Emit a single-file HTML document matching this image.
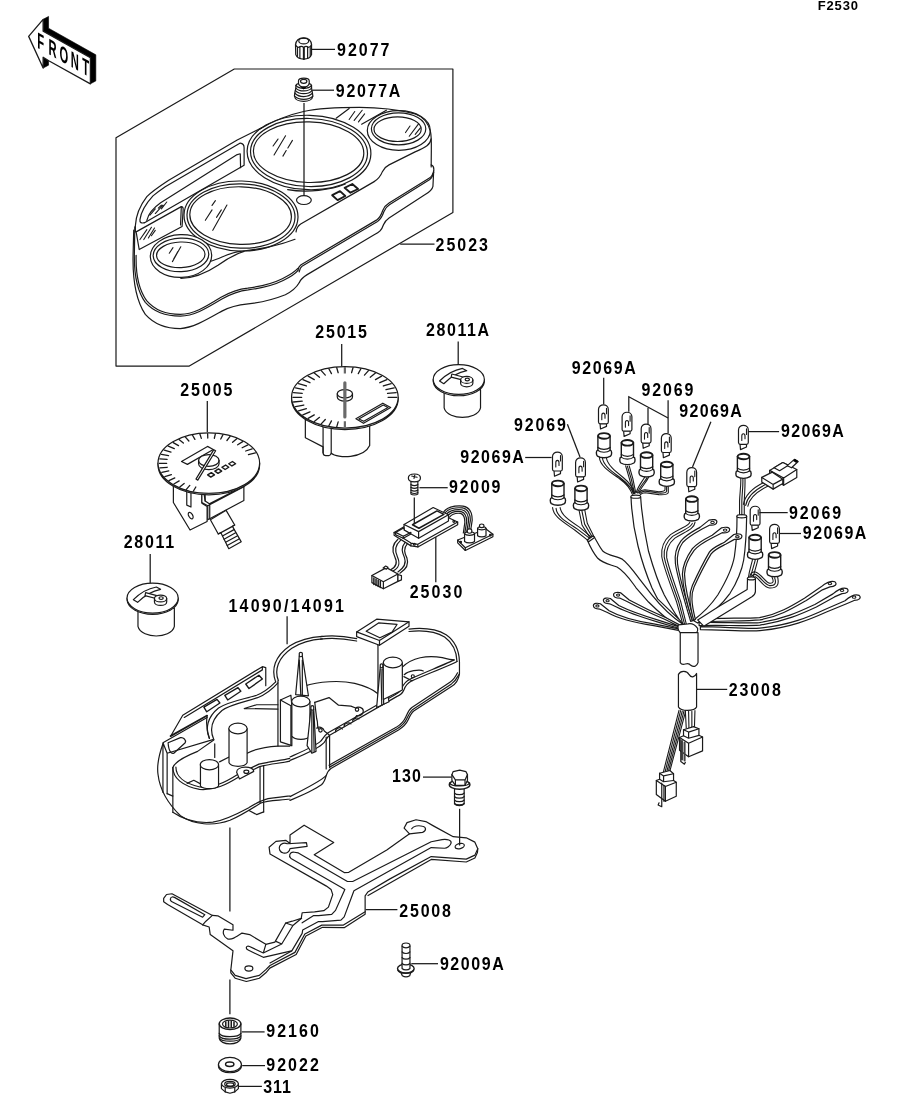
<!DOCTYPE html>
<html><head><meta charset="utf-8"><title>F2530 Meter(s)</title>
<style>
html,body{margin:0;padding:0;background:#fff;}
body{width:914px;height:1103px;overflow:hidden;font-family:"Liberation Sans",sans-serif;}
svg{display:block;position:absolute;left:0;top:0;filter:grayscale(1);}
svg text{font-family:"Liberation Sans",sans-serif;font-weight:bold;font-size:17px;fill:#000;}
.l{fill:none;stroke:#1a1a1a;stroke-width:1.2;stroke-linecap:round;stroke-linejoin:round;vector-effect:non-scaling-stroke;}
.w{fill:#fff;stroke:#1a1a1a;stroke-width:1.2;stroke-linecap:round;stroke-linejoin:round;vector-effect:non-scaling-stroke;}
.t{fill:none;stroke:#1a1a1a;stroke-width:1.1;stroke-linecap:round;stroke-linejoin:round;vector-effect:non-scaling-stroke;}
.tw{fill:#fff;stroke:#1a1a1a;stroke-width:1.0;stroke-linecap:round;stroke-linejoin:round;vector-effect:non-scaling-stroke;}
.k{fill:#000;stroke:#000;stroke-width:0.6;stroke-linejoin:round;vector-effect:non-scaling-stroke;}
.ld{fill:none;stroke:#1a1a1a;stroke-width:1.25;}
</style></head><body>
<svg width="914" height="1103" viewBox="0 0 914 1103">
<rect width="914" height="1103" fill="#fff"/>
<g id="labels">
<text transform="translate(817.7,9.9) scale(1,1.05)" textLength="40.3" lengthAdjust="spacing" style="font-size:13.0px">F2530</text>
<text transform="translate(337,55.8) scale(1,1.15)" textLength="52.5" lengthAdjust="spacing" style="font-size:16.0px">92077</text>
<text transform="translate(335.8,96.9) scale(1,1.15)" textLength="64.5" lengthAdjust="spacing" style="font-size:16.0px">92077A</text>
<text transform="translate(435.6,251.1) scale(1,1.15)" textLength="52.4" lengthAdjust="spacing" style="font-size:16.0px">25023</text>
<text transform="translate(315.3,338.2) scale(1,1.15)" textLength="51.6" lengthAdjust="spacing" style="font-size:16.0px">25015</text>
<text transform="translate(426,335.5) scale(1,1.15)" textLength="63.0" lengthAdjust="spacing" style="font-size:16.0px">28011A</text>
<text transform="translate(180.2,396.3) scale(1,1.15)" textLength="52.3" lengthAdjust="spacing" style="font-size:16.0px">25005</text>
<text transform="translate(123.8,548.3) scale(1,1.15)" textLength="50.3" lengthAdjust="spacing" style="font-size:16.0px">28011</text>
<text transform="translate(448.9,493.2) scale(1,1.15)" textLength="51.6" lengthAdjust="spacing" style="font-size:16.0px">92009</text>
<text transform="translate(409.7,598.3) scale(1,1.15)" textLength="52.6" lengthAdjust="spacing" style="font-size:16.0px">25030</text>
<text transform="translate(228.5,611.7) scale(1,1.15)" textLength="115.4" lengthAdjust="spacing" style="font-size:16.0px">14090/14091</text>
<text transform="translate(391.9,782.4) scale(1,1.15)" textLength="29.0" lengthAdjust="spacing" style="font-size:16.0px">130</text>
<text transform="translate(399.2,916.5) scale(1,1.15)" textLength="51.8" lengthAdjust="spacing" style="font-size:16.0px">25008</text>
<text transform="translate(439.9,969.6) scale(1,1.15)" textLength="63.9" lengthAdjust="spacing" style="font-size:16.0px">92009A</text>
<text transform="translate(266.3,1037.3) scale(1,1.15)" textLength="52.5" lengthAdjust="spacing" style="font-size:16.0px">92160</text>
<text transform="translate(266.3,1071.2) scale(1,1.15)" textLength="52.5" lengthAdjust="spacing" style="font-size:16.0px">92022</text>
<text transform="translate(263.2,1092.6) scale(1,1.15)" textLength="27.6" lengthAdjust="spacing" style="font-size:16.0px">311</text>
<text transform="translate(571.7,374) scale(1,1.15)" textLength="64.2" lengthAdjust="spacing" style="font-size:16.0px">92069A</text>
<text transform="translate(641.4,395.9) scale(1,1.15)" textLength="51.9" lengthAdjust="spacing" style="font-size:16.0px">92069</text>
<text transform="translate(679.2,417) scale(1,1.15)" textLength="62.7" lengthAdjust="spacing" style="font-size:16.0px">92069A</text>
<text transform="translate(514.1,430.6) scale(1,1.15)" textLength="51.8" lengthAdjust="spacing" style="font-size:16.0px">92069</text>
<text transform="translate(460.3,463.4) scale(1,1.15)" textLength="63.6" lengthAdjust="spacing" style="font-size:16.0px">92069A</text>
<text transform="translate(780.9,436.9) scale(1,1.15)" textLength="62.9" lengthAdjust="spacing" style="font-size:16.0px">92069A</text>
<text transform="translate(789,518.5) scale(1,1.15)" textLength="52.1" lengthAdjust="spacing" style="font-size:16.0px">92069</text>
<text transform="translate(802.8,539.3) scale(1,1.15)" textLength="63.6" lengthAdjust="spacing" style="font-size:16.0px">92069A</text>
<text transform="translate(728.8,696.0) scale(1,1.15)" textLength="52.0" lengthAdjust="spacing" style="font-size:16.0px">23008</text>
</g>

<path class="l" d="M116 137.7L234.3 69H452.9V212.5L189.3 366.1H116Z"/>
<!-- 01_front.svg -->
<g id="front" transform="translate(20,10) scale(0.09846)">
<path class="k" d="M235 95L290 65V185L770 455V720L715 750V485L235 215Z"/>
<path class="k" d="M235 480L290 512V560L235 590Z"/>
<path class="w" style="stroke-width:1.3" d="M88 268L235 95V215L715 485V750L292 516L235 480V590Z"/>
</g>
<g id="fronttxt" style="font-size:14px">
<text transform="matrix(0.66,0.371,0,1.34,37.2,47.7)">F</text>
<text transform="matrix(0.66,0.371,0,1.34,48.4,54.0)">R</text>
<text transform="matrix(0.66,0.371,0,1.34,59.4,60.2)">O</text>
<text transform="matrix(0.66,0.371,0,1.34,70.7,66.6)">N</text>
<text transform="matrix(0.66,0.371,0,1.34,82.2,73.0)">T</text>
</g>

<!-- 02_cover.svg -->
<g id="cover">
<!-- gauges -->
<g transform="rotate(1.5 309 152.5)">
<ellipse class="w" cx="309" cy="152.5" rx="61.9" ry="37.2"/>
<ellipse class="l" cx="309" cy="152.5" rx="58.5" ry="34"/>
<ellipse class="l" cx="308.6" cy="152.2" rx="55.2" ry="30.3"/>
</g>
<g transform="rotate(1.5 241 216)">
<ellipse class="w" cx="241" cy="216" rx="57" ry="35"/>
<ellipse class="l" cx="241" cy="216" rx="54" ry="32.2"/>
<ellipse class="l" cx="240.6" cy="215.6" rx="50.8" ry="28.8"/>
</g>
<g transform="rotate(-2 181 256)">
<ellipse class="w" cx="181" cy="256" rx="30.7" ry="21.4"/>
<ellipse class="l" cx="181" cy="254.9" rx="27.8" ry="16.8"/>
<ellipse class="l" cx="180.8" cy="254.8" rx="24.2" ry="12.8"/>
</g>
<g>
<ellipse class="w" cx="398.8" cy="130.5" rx="31.5" ry="19.8"/>
<ellipse class="l" cx="398.6" cy="128.8" rx="27.2" ry="16"/>
<ellipse class="l" cx="397.6" cy="129.2" rx="23.6" ry="12.3"/>
</g>
<!-- hole + squares -->
<ellipse class="l" cx="303.9" cy="200.1" rx="7.4" ry="4.4"/>
<path class="l" style="stroke-width:1.9" d="M332.2 195.2L340 191.1L345.3 196L337.6 200.1ZM344.6 187.8L352.3 184L358.1 189L350.4 192.7Z"/>
</g>

<!-- 02a_cover_outline.svg -->
<g id="cover_outline_D1" transform="translate(130,140) scale(0.15316)">
<!-- outer silhouette top-left -->
<path class="l" d="M35 600V560C38 500 60 435 110 370C150 330 200 298 250 265L700 0L860 -80"/>
<!-- L2 window outer -->
<path class="l" d="M95 540C75 545 62 540 65 520C72 470 95 425 150 365C180 340 205 322 230 305L720 20C738 22 745 35 745 50V165L720 180"/>
<!-- L3 window inner top -->
<path class="l" d="M110 525C118 490 150 445 200 410L700 95L720 90L722 180"/>
<!-- L4 window bottom -->
<path class="l" d="M95 540L720 180"/>
<path class="t" d="M130 490L165 450M165 480L215 425M205 450L240 405M185 445L205 425"/>
<!-- panel -->
<path class="l" d="M40 600L335 435C345 436 348 445 347 455L340 565L60 715Z"/>
<path class="l" d="M335 435L330 555"/>
<path class="t" d="M65 650L110 585M90 650L140 570M120 640L160 575M140 625L165 590"/>
</g>
<g id="cover_outline_TC" transform="translate(125,150) scale(0.18601)">
<!-- top face lower boundary right of small gauge -->
<path class="l" d="M462 598C520 580 560 552 620 545C700 535 800 525 914 480"/>
<path class="l" d="M300 690C380 690 440 660 500 620C540 590 580 565 640 545"/>
</g>

<!-- 02b_cover_right.svg -->
<g id="cover_outline_TD" transform="translate(285,100) scale(0.18601)">
<!-- top silhouette -->
<path class="l" d="M-142 160C-60 110 40 75 100 62C180 45 300 40 400 40C480 40 600 50 700 75C740 88 770 125 782 170C790 200 786 240 786 360"/>
<!-- window panel top right (indicator window) -->
<path class="l" d="M275 98L345 46M412 130L545 55"/>
<path class="t" d="M345 105L375 62M372 110L415 55M395 118L428 75"/>
</g>
<g id="cover_L" transform="translate(270,150) scale(0.18601)">
<!-- top face front edge -->
<path class="l" d="M866 -60C862 -30 840 -15 780 10L640 80C620 90 612 100 605 115C595 140 580 158 560 170L500 205L165 398C150 408 142 425 140 440"/>
<!-- arc under tach -->
<path class="l" d="M95 213C200 232 330 215 405 183"/>
<!-- flange top double -->
<path class="l" d="M866 80C880 85 882 100 880 112C875 135 868 145 855 152L640 285C620 297 612 310 606 325C598 350 590 365 572 377L165 618C155 625 152 635 150 648"/>
<path class="l" d="M880 120C875 142 868 152 857 160L644 293C626 304 618 316 612 332C604 356 596 372 578 384L172 625C162 632 160 642 157 655"/>
<!-- flange bottom -->
<path class="l" d="M880 112L876 195C872 215 860 225 830 242L640 365C622 377 616 388 610 402C600 432 588 442 560 456L200 670C175 685 165 695 158 712"/>
</g>
<g id="cover_bottom_M" transform="translate(130,240) scale(0.21882)">
<path class="l" d="M22 -60L20 60C18 150 30 230 70 285C110 330 170 348 230 348C290 348 340 318 420 270C460 247 500 232 540 228C600 220 660 205 700 185C735 168 755 155 767 140"/>
<path class="l" d="M28 70C26 150 38 224 76 277C114 322 172 340 230 340C288 340 338 310 416 262C456 239 498 224 538 220C598 212 656 197 696 177C731 160 752 147 767 130"/>
<path class="l" d="M17 -45L14 75C12 200 30 280 70 340C110 385 170 405 230 405C290 400 340 370 420 325C460 303 500 296 540 292C600 285 660 270 710 250C745 232 762 215 774 194"/>
</g>

<!-- 02c_cover_refl.svg -->
<g transform="translate(235,100) scale(0.16412)"><path class="t" d="M238 335L308 218M232 280L262 238M292 342L312 308M322 292L350 246"/></g>
<g transform="translate(125,150) scale(0.18601)"><path class="t" d="M472 432L548 296M432 378L468 322M468 298L486 272M492 362L518 322M255 600L300 520M238 555L258 525M262 585L285 545"/></g>
<g transform="translate(285,100) scale(0.18601)"><path class="t" d="M648 175L672 140M668 195L718 128M700 185L728 150"/></g>

<!-- 03_caps.svg -->
<g id="caps" transform="translate(285,30) scale(0.07252)">
<!-- 92077 cap -->
<path class="w" d="M145 205C150 150 190 110 258 108C325 110 362 150 366 205L366 340C350 385 300 402 258 402C215 402 165 385 148 340Z"/>
<ellipse class="l" cx="258" cy="152" rx="68" ry="40"/>
<path class="l" d="M145 205C160 235 175 240 190 240M366 205C350 235 335 240 320 240M190 240C210 225 235 222 258 240C280 222 305 225 320 240"/>
<path class="l" d="M205 232V392M312 232V392M172 240V365M348 240V365"/>
<path class="l" style="stroke-width:2" d="M260 245V400"/>

<!-- 92077A -->
<path class="w" d="M186 700C190 650 330 650 334 700V740C350 742 362 750 366 765V800C372 830 380 870 384 910C380 960 320 985 258 985C195 985 135 960 130 910C134 870 142 830 150 800V765C154 750 168 742 186 740Z"/>
<ellipse class="l" cx="258" cy="708" rx="44" ry="27"/>
<path class="l" d="M186 740C200 775 230 785 258 785C290 785 320 775 334 740"/>
<path class="l" d="M150 800C180 835 230 840 258 840C290 840 340 835 366 800M144 835C180 872 230 878 258 878C290 878 340 872 372 835M138 872C175 912 230 918 258 918C290 918 345 912 378 872M132 912C170 950 230 956 258 956C290 956 350 950 383 912"/>
<path class="l" d="M150 765C180 800 230 806 258 806C290 806 340 800 366 765"/>
<path class="k" d="M225 790L258 815L290 790Z"/>
</g>

<!-- 04_speedo.svg -->
<g id="speedo" transform="translate(150,425) scale(0.13129)">
<!-- bracket left -->
<path class="w" d="M178 440V590L305 800L435 735V620L395 595V500Z"/>
<path class="l" d="M280 505V610L312 625V510"/>
<ellipse class="l" cx="310" cy="690" rx="15" ry="27" transform="rotate(-30 310 690)"/>
<!-- box right -->
<path class="w" d="M395 500V590L440 615V722L715 575V440Z"/>
<path class="l" d="M440 615L715 470M455 610V715M412 525L420 578L452 600L690 478"/>
<path class="l" d="M420 578V530"/>
<!-- cable -->
<path class="w" d="M460 722L520 830L540 820L600 942L695 890L628 772L645 762L580 650Z"/>
<path class="l" d="M520 830L645 762M540 820L628 772M552 845L640 797M564 870L652 821M576 893L664 845M588 918L678 868"/>
<!-- dial -->
<path class="w" d="M61 290A387 230 0 0 0 835 290V302A387 230 0 0 1 61 302Z"/>
<ellipse class="w" cx="448" cy="290" rx="387" ry="230"/>
<path class="l" style="stroke-width:1.3" d="M331 503L349 472M277 490L303 460M227 472L260 445M182 449L222 426M144 423L189 403M113 393L163 378M90 361L143 350M76 327L131 322M71 292L127 292M75 258L130 262M88 224L141 233M109 191L160 206M139 161L185 180M177 134L217 157M221 111L254 138M270 92L296 122M324 78L342 110M380 69L391 102M439 66L440 99M498 68L490 101M555 75L539 107M610 87L586 118M661 105L629 132M706 127L668 151M746 152L702 173M778 182L729 198M803 213L750 225"/>
<!-- odometer rect -->
<path class="l" d="M240 278L438 163L482 186L285 300Z"/>
<!-- hub -->
<path class="w" d="M370 270A78 45 0 0 1 526 270V295A78 45 0 0 1 370 295Z"/>
<path class="l" d="M370 270A78 45 0 0 0 526 270"/>
<!-- needle -->
<path class="w" d="M350 412L486 188L500 196L364 420Z"/>
<!-- squares -->
<path class="l" style="stroke-width:1.4" d="M439 380L467 363L491 380L463 397ZM494 351L522 334L546 351L518 368ZM548 322L576 305L600 322L572 339ZM600 295L628 278L652 295L624 312Z"/>
</g>

<!-- 05_tach.svg -->
<g id="tach" transform="translate(285,355) scale(0.13129)">
<!-- body -->
<path class="w" d="M155 480V630L290 700V745C292 760 298 766 310 766H335C345 766 350 758 352 748C400 790 600 790 645 690V480Z"/>
<path class="l" d="M290 540V745M352 540V748"/>
<!-- dial -->
<path class="w" d="M50 322A406 234 0 0 0 862 322V334A406 234 0 0 1 50 334Z"/>
<ellipse class="w" cx="456" cy="322" rx="406" ry="234"/>
<path class="l" style="stroke-width:1.3" d="M394 547L405 509M334 539L354 502M276 525L307 491M223 507L263 475M176 483L223 456M136 456L190 433M103 426L163 408M80 393L143 381M65 358L131 352M60 322L127 322M65 286L131 292M80 251L143 263M103 218L163 236M136 188L190 211M176 161L223 188M223 137L263 169M276 119L307 153M334 105L354 142M394 97L405 135M518 97L507 135M578 105L558 142M636 119L605 153M689 137L649 169M736 161L689 188M776 188L722 211M809 218L749 236M832 251L769 263M847 286L781 292M852 322L785 322"/>
<path d="M456 92V140M456 505V553" style="stroke:#666;stroke-width:2.2;fill:none;vector-effect:non-scaling-stroke"/>
<!-- hub -->
<path class="w" d="M398 295A58 32 0 0 1 514 295V320A58 32 0 0 1 398 320Z"/>
<path class="l" d="M398 295A58 32 0 0 0 514 295"/>
<!-- needle -->
<path d="M456 212V472" style="stroke:#6a6a6a;stroke-width:3.2;fill:none;stroke-linecap:round;vector-effect:non-scaling-stroke"/>
<!-- lcd -->
<path class="l" d="M540 485L745 367L805 400L598 520Z"/>
<path class="l" d="M562 487L748 381L784 400L600 505Z"/>
</g>

<!-- 06_gaugeA.svg -->
<g id="g28011A" transform="translate(425,355) scale(0.07659)">
<path class="w" d="M250 470V690C270 780 400 815 488 815C580 815 705 780 725 690V450Z"/>
<path class="w" d="M108 320A334 195 0 0 0 775 320V348A334 195 0 0 1 108 348Z"/>
<ellipse class="w" cx="441" cy="320" rx="334" ry="195"/>
<path class="l" d="M190 340C260 270 380 195 490 175L545 205C440 225 320 300 245 375Z"/>
<path class="w" d="M350 248L545 300L535 338L342 288Z"/>
<path class="w" d="M465 325A80 45 0 0 1 625 325V370A80 45 0 0 1 465 370Z"/>
<path class="l" d="M465 325A80 45 0 0 0 625 325"/>
<ellipse class="l" cx="552" cy="320" rx="28" ry="18"/>
</g>

<!-- 06b_gauge.svg -->
<g id="g28011" transform="translate(118.83,573.6) scale(0.07659)">
<path class="w" d="M250 470V690C270 780 400 815 488 815C580 815 705 780 725 690V450Z"/>
<path class="w" d="M108 320A334 195 0 0 0 775 320V348A334 195 0 0 1 108 348Z"/>
<ellipse class="w" cx="441" cy="320" rx="334" ry="195"/>
<path class="l" d="M190 340C260 270 380 195 490 175L545 205C440 225 320 300 245 375Z"/>
<path class="w" d="M350 248L545 300L535 338L342 288Z"/>
<path class="w" d="M465 325A80 45 0 0 1 625 325V370A80 45 0 0 1 465 370Z"/>
<path class="l" d="M465 325A80 45 0 0 0 625 325"/>
<ellipse class="l" cx="552" cy="320" rx="28" ry="18"/>
</g>

<!-- 07_unit.svg -->
<g id="unit25030" transform="translate(365,465) scale(0.15317)">
<!-- screw 92009 -->
<path class="w" d="M300 105H345V190C335 198 310 198 300 190Z"/>
<path class="l" d="M300 128C315 136 330 136 345 128M300 146C315 154 330 154 345 146M300 164C315 172 330 172 345 164M300 180C315 188 330 188 345 180"/>
<path class="w" d="M283 85C283 50 362 50 362 85C362 100 350 110 322 110C295 110 283 100 283 85Z"/>
<path class="l" d="M305 72L340 80M325 66L320 88"/>
<!-- wires right -->
<path class="l" d="M515 305C540 270 600 265 640 268C680 275 700 310 700 360L690 425"/>
<path class="l" d="M522 312C548 282 600 277 636 280C672 287 688 318 688 362L676 430"/>
<path class="l" d="M532 320C556 294 600 289 632 292C662 299 676 326 676 366L664 436"/>
<path class="l" d="M542 330C562 306 600 301 628 304C654 311 664 334 664 370L652 440"/>
<path class="l" d="M552 340C570 318 600 313 624 316C644 322 652 342 652 374L642 444"/>
<!-- switch board -->
<path class="w" d="M605 490L790 418L835 452V468L655 558L605 508Z"/>
<path class="l" d="M605 490L655 540L835 452M655 540V558"/>
<path class="w" d="M650 450C650 432 715 432 715 450V500C700 512 665 512 650 500Z"/>
<path class="l" d="M650 450C660 462 705 462 715 450"/>
<path class="w" d="M668 440V425C668 415 697 415 697 425V440C690 446 675 446 668 440Z"/>
<path class="w" d="M735 415C735 398 790 398 790 415V462C778 472 747 472 735 462Z"/>
<path class="l" d="M735 415C745 426 780 426 790 415"/>
<path class="w" d="M748 405V392C748 383 776 383 776 392V405C770 410 754 410 748 405Z"/>
<circle class="l" cx="625" cy="503" r="5"/><circle class="l" cx="818" cy="458" r="5"/>
<!-- base plate -->
<path class="w" d="M190 440L440 295L605 372V390L345 535L300 528L190 458Z"/>
<path class="l" d="M190 440L300 510L345 518L605 372M345 518V535M300 510V528"/>
<circle class="l" cx="210" cy="452" r="6"/><circle class="l" cx="322" cy="518" r="6"/><circle class="l" cx="580" cy="368" r="6"/>
<!-- box -->
<path class="w" d="M255 388L445 278L545 325V365L350 478L255 425Z"/>
<path class="l" d="M255 388L350 435L545 325M350 435V478"/>
<path class="l" style="stroke-width:1.5" d="M310 390L470 300L515 322L352 413Z"/>
<!-- left nub -->
<path class="w" d="M200 440L255 410V425L300 450L250 478L200 455Z"/>
<path class="l" d="M200 440L250 465L300 440M250 465V478"/>
<!-- wires left -->
<path class="l" d="M215 485C175 520 175 560 195 600C215 640 205 665 165 685"/>
<path class="l" d="M232 492C192 527 192 560 212 600C232 645 222 672 180 694"/>
<path class="l" d="M262 505C232 540 242 570 258 605C272 645 255 672 215 698"/>
<path class="l" d="M278 512C248 547 258 575 274 608C288 650 270 680 228 706"/>
<!-- connector -->
<path class="w" d="M45 722L140 670L215 712V760L120 808L45 768Z"/>
<path class="l" d="M45 722L120 762L215 712M120 762V808"/>
<path class="w" d="M215 715L238 722V750L215 760Z"/>
<path class="w" d="M118 672L135 660L150 668L140 680Z"/>
<path class="l" style="stroke-width:1.5" d="M58 738V780M72 745V787M86 752V794M100 758V800"/>
</g>

<!-- 08_harness.svg -->
<g id="har_S" transform="translate(590,395) scale(0.098464)">
<path class="t" d="M95 630C100 720 200 780 300 850C370 900 410 950 430 1010M125 635C135 720 230 780 320 850C385 900 425 950 445 1005M165 630C175 710 250 770 340 840C400 890 440 950 455 1000"/>
<path class="t" d="M362 720L400 850L440 1000M380 725L418 850L452 1000M398 720L435 850L465 995"/>
<path class="t" d="M555 835C530 880 490 920 470 990M575 845C550 890 505 930 482 995M595 835C570 890 520 935 495 995"/>
<path class="t" d="M762 930V960C760 978 740 982 700 982L560 962C530 960 510 975 498 990M778 935V975C776 995 750 998 700 996L560 976C535 975 515 990 505 1000M795 930V990C792 1012 760 1015 700 1012L560 992C540 992 520 1002 510 1012"/>
</g>
<g id="har_U" transform="translate(540,490) scale(0.175055)">
<!-- s5/s6 wires -->
<path class="t" d="M72 100C75 150 130 180 200 230L270 285M92 105C95 150 145 178 212 222L282 275M115 100C120 140 160 170 225 212L292 268"/>
<path class="t" d="M222 110L240 200L285 272M238 112L255 195L296 264M255 110L270 190L305 260"/>
<!-- left tube -->
<path class="w" d="M305 262C320 280 335 320 360 350C385 372 440 380 470 395C500 415 540 470 570 510L640 600C680 650 740 715 820 770L800 790C740 750 680 700 620 640L550 560C520 520 490 470 440 440C400 425 360 420 330 390C305 360 285 320 270 285Z"/>
<!-- mid tube -->
<path class="w" d="M520 40C522 100 535 220 560 320C580 400 610 490 640 560C660 600 665 610 672 622L800 745L820 770C790 740 760 690 710 600C680 540 640 420 620 350C600 260 580 120 575 40Z"/>
<ellipse class="w" cx="547" cy="38" rx="28" ry="9"/>
<path class="w" d="M270 285L305 262L312 272L278 296Z"/>
<!-- left ring terminals -->
<g id="ringL">
<path class="w" d="M305 660C305 645 330 645 345 650L395 690C440 715 520 745 650 765L800 795L798 803L650 775C520 755 430 725 385 700L340 680C320 680 305 675 305 660Z"/>
<ellipse class="t" cx="328" cy="662" rx="9" ry="6"/>
</g>
<path class="w" d="M362 630C362 615 388 615 402 620L450 660C500 685 580 715 680 745L800 783L797 791L675 755C575 725 490 695 440 670L398 650C378 650 362 645 362 630Z"/>
<ellipse class="t" cx="386" cy="632" rx="9" ry="6"/>
<path class="w" d="M420 598C420 583 448 583 462 588L510 628C560 655 640 695 720 730L800 772L796 780L715 740C635 705 550 665 500 638L458 618C438 618 420 613 420 598Z"/>
<ellipse class="t" cx="446" cy="600" rx="9" ry="6"/>
</g>
<g id="har_H" transform="translate(684,380) scale(0.251636)">
<path class="w" d="M55 950C150 945 250 948 300 944C380 930 440 890 480 866L545 822C560 808 585 795 600 802C610 812 600 822 580 822L550 834L486 876C440 902 380 940 302 953C250 958 150 957 55 962Z"/>
<ellipse class="t" cx="580" cy="809" rx="7" ry="4.5"/>
<path class="w" d="M60 964C150 962 250 968 300 964C400 950 470 915 520 892L592 850C608 836 632 822 648 829C658 839 648 849 628 849L598 862L526 902C470 928 400 960 302 974C250 978 150 974 60 976Z"/>
<ellipse class="t" cx="628" cy="836" rx="7" ry="4.5"/>
<path class="w" d="M65 980C150 980 250 990 300 986C420 975 500 940 560 912L640 877C656 863 680 849 696 856C706 866 696 876 676 876L646 889L566 922C500 952 420 985 302 996C250 1000 150 992 65 992Z"/>
<ellipse class="t" cx="676" cy="863" rx="7" ry="4.5"/>
</g>
<g id="har_V" transform="translate(660,490) scale(0.175055)">
<!-- tube A -->
<path class="w" d="M440 150C440 220 437 300 425 380C415 440 390 500 330 600C290 660 230 715 190 745L215 760C260 730 350 660 400 590C440 530 470 450 478 400C490 320 494 220 495 150Z"/>
<ellipse class="w" cx="467" cy="150" rx="28" ry="9"/>
<!-- s7 wires -->
<path class="t" d="M170 185C165 205 120 215 60 255C20 290 5 330 10 380C20 440 60 540 95 640L130 765M185 190C180 215 135 225 72 265C34 298 20 335 24 382C34 440 72 540 107 640L140 765M200 185C195 222 150 235 85 275C48 306 34 340 38 385C48 440 85 540 119 640L150 765"/>
<!-- ring terminals T4..T6 wires -->
<path class="w" d="M325 182C325 168 300 166 280 172L230 212C190 235 150 255 120 290C90 330 82 370 88 420C95 480 130 600 175 750L185 748C140 600 108 480 100 420C95 375 102 340 130 300C158 268 195 248 238 224L285 200C310 202 325 196 325 182Z"/>
<ellipse class="t" cx="300" cy="185" rx="10" ry="6.5"/>
<path class="w" d="M398 226C398 212 372 210 352 216L298 258C255 280 215 300 185 335C150 385 130 430 128 480C130 540 150 640 185 745L195 743C162 640 142 540 140 480C142 435 160 392 195 345C222 312 262 292 305 270L355 244C382 246 398 240 398 226Z"/>
<ellipse class="t" cx="372" cy="229" rx="10" ry="6.5"/>
<path class="w" d="M468 264C468 250 442 248 422 254L368 298C330 318 300 330 282 355C250 410 215 480 185 545C165 590 165 640 192 742L202 740C177 640 177 595 195 552C225 487 260 418 292 365C308 342 335 330 375 310L425 282C452 284 468 278 468 264Z"/>
<ellipse class="t" cx="442" cy="267" rx="10" ry="6.5"/>
<!-- s9 s10 wires -->
<path class="t" d="M530 390C525 420 512 450 505 500M545 395C540 425 525 455 518 502M560 390C555 425 540 458 532 502"/>
<path class="t" d="M640 498C650 520 650 535 625 532C600 525 580 480 545 468C525 465 515 480 512 500M655 502C665 530 660 548 625 546C595 540 575 495 545 482C530 480 525 490 522 502M672 498C682 540 670 562 625 560C590 555 570 510 545 496C538 494 535 498 532 504"/>
<!-- tube B -->
<path class="w" d="M500 505L498 568L345 660L215 742L250 778L525 610C540 600 545 590 545 580V505Z"/>
<ellipse class="w" cx="522" cy="505" rx="23" ry="8"/>
<!-- junction -->
<path class="w" d="M105 770C95 800 120 835 165 835C200 835 220 810 215 790C200 770 180 760 160 765Z"/>
</g>
<g id="har_W" transform="translate(690,410) scale(0.175055)">
<path class="t" d="M290 388C292 430 285 470 283 520V595M302 392C304 430 298 470 296 520V598M314 388C316 430 312 470 310 520V595"/>
<path class="t" d="M305 540C315 480 360 440 440 405M318 545C328 490 370 452 448 418M330 550C340 500 380 465 455 430"/>
<!-- connector -->
<path class="w" d="M455 345L530 300L610 340V385L535 430L455 388Z"/>
<path class="l" d="M455 345L535 388L610 340M535 388V430"/>
<path class="w" d="M410 385L470 355L530 395V420L475 452L410 412Z"/>
<path class="l" d="M410 385L475 425L530 395M475 425V452"/>
<path class="w" d="M480 330L530 300L562 316L512 347Z"/>
<path class="w" d="M556 318L596 282L618 294L580 330Z"/><path class="k" d="M590 290L600 282L616 292L606 300Z"/>
</g>
<g id="har_X" transform="translate(640,620) scale(0.181324)">
<!-- upper tube -->
<path class="w" d="M222 70V235C240 265 260 220 280 250C300 265 315 250 320 235V70Z"/>
<!-- lower tube -->
<path class="w" d="M212 300C225 275 260 280 270 300C285 325 305 310 312 295V480C300 505 225 505 212 480Z"/>
<!-- wires to conn1 -->
<path class="t" d="M250 500L255 595M268 504L270 598M286 504L286 600M303 500L300 600"/>
<!-- conn1 -->
<path class="w" d="M218 648L240 638V605L295 588L325 600V636L345 645V722L268 754L218 718Z"/>
<path class="l" d="M240 638L268 652V618L240 605M268 618L325 600M268 652L325 636M218 648L268 680L345 645M268 680V754"/>
<path class="l" style="stroke:#444;stroke-width:2" d="M232 668V770M246 676V775"/>
<path class="l" d="M225 660V780L245 795L250 785"/>
<!-- wires to conn2 -->
<path class="t" d="M215 498L128 842M224 500L137 843M233 502L146 843M242 504L155 840M251 505L164 836"/>
<!-- conn2 -->
<path class="w" d="M90 885L108 878V845L165 830L185 848V885L200 895V972L140 1000L90 962Z"/>
<path class="l" d="M108 878L130 892V860L108 845M130 860L185 848M130 892L185 885M90 885L140 918L200 895M140 918V1000"/>
<path class="l" d="M120 900V1030L100 1020L105 1008"/>
<path class="l" d="M132 912V1000"/>
</g>
<g transform="translate(604,432.9)"><path class="w" style="stroke-width:1.4" d="M-6.1 3V17.2C-8.2 17.6 -8 22 -6.5 23.2C-3 25.4 3 25.4 6.5 23.2C8 22 8.2 17.6 6.1 17.2V3Z"/><ellipse class="w" style="stroke-width:1.9" cx="0" cy="3" rx="5.9" ry="2.8"/><path class="l" d="M-6.1 14.6C-3 17.2 3 17.2 6.1 14.6M-6.3 17.3C-3 20 3 20 6.3 17.3"/></g>
<g transform="translate(627.4,439.8)"><path class="w" style="stroke-width:1.4" d="M-6.1 3V17.2C-8.2 17.6 -8 22 -6.5 23.2C-3 25.4 3 25.4 6.5 23.2C8 22 8.2 17.6 6.1 17.2V3Z"/><ellipse class="w" style="stroke-width:1.9" cx="0" cy="3" rx="5.9" ry="2.8"/><path class="l" d="M-6.1 14.6C-3 17.2 3 17.2 6.1 14.6M-6.3 17.3C-3 20 3 20 6.3 17.3"/></g>
<g transform="translate(646.6,452.1)"><path class="w" style="stroke-width:1.4" d="M-6.1 3V17.2C-8.2 17.6 -8 22 -6.5 23.2C-3 25.4 3 25.4 6.5 23.2C8 22 8.2 17.6 6.1 17.2V3Z"/><ellipse class="w" style="stroke-width:1.9" cx="0" cy="3" rx="5.9" ry="2.8"/><path class="l" d="M-6.1 14.6C-3 17.2 3 17.2 6.1 14.6M-6.3 17.3C-3 20 3 20 6.3 17.3"/></g>
<g transform="translate(666.8,461.5)"><path class="w" style="stroke-width:1.4" d="M-6.1 3V17.2C-8.2 17.6 -8 22 -6.5 23.2C-3 25.4 3 25.4 6.5 23.2C8 22 8.2 17.6 6.1 17.2V3Z"/><ellipse class="w" style="stroke-width:1.9" cx="0" cy="3" rx="5.9" ry="2.8"/><path class="l" d="M-6.1 14.6C-3 17.2 3 17.2 6.1 14.6M-6.3 17.3C-3 20 3 20 6.3 17.3"/></g>
<g transform="translate(557.9,480.4)"><path class="w" style="stroke-width:1.4" d="M-6.1 3V17.2C-8.2 17.6 -8 22 -6.5 23.2C-3 25.4 3 25.4 6.5 23.2C8 22 8.2 17.6 6.1 17.2V3Z"/><ellipse class="w" style="stroke-width:1.9" cx="0" cy="3" rx="5.9" ry="2.8"/><path class="l" d="M-6.1 14.6C-3 17.2 3 17.2 6.1 14.6M-6.3 17.3C-3 20 3 20 6.3 17.3"/></g>
<g transform="translate(581,485.4)"><path class="w" style="stroke-width:1.4" d="M-6.1 3V17.2C-8.2 17.6 -8 22 -6.5 23.2C-3 25.4 3 25.4 6.5 23.2C8 22 8.2 17.6 6.1 17.2V3Z"/><ellipse class="w" style="stroke-width:1.9" cx="0" cy="3" rx="5.9" ry="2.8"/><path class="l" d="M-6.1 14.6C-3 17.2 3 17.2 6.1 14.6M-6.3 17.3C-3 20 3 20 6.3 17.3"/></g>
<g transform="translate(691.8,496.1)"><path class="w" style="stroke-width:1.4" d="M-6.1 3V17.2C-8.2 17.6 -8 22 -6.5 23.2C-3 25.4 3 25.4 6.5 23.2C8 22 8.2 17.6 6.1 17.2V3Z"/><ellipse class="w" style="stroke-width:1.9" cx="0" cy="3" rx="5.9" ry="2.8"/><path class="l" d="M-6.1 14.6C-3 17.2 3 17.2 6.1 14.6M-6.3 17.3C-3 20 3 20 6.3 17.3"/></g>
<g transform="translate(743.5,453.5)"><path class="w" style="stroke-width:1.4" d="M-6.1 3V17.2C-8.2 17.6 -8 22 -6.5 23.2C-3 25.4 3 25.4 6.5 23.2C8 22 8.2 17.6 6.1 17.2V3Z"/><ellipse class="w" style="stroke-width:1.9" cx="0" cy="3" rx="5.9" ry="2.8"/><path class="l" d="M-6.1 14.6C-3 17.2 3 17.2 6.1 14.6M-6.3 17.3C-3 20 3 20 6.3 17.3"/></g>
<g transform="translate(755.1,534.5)"><path class="w" style="stroke-width:1.4" d="M-6.1 3V17.2C-8.2 17.6 -8 22 -6.5 23.2C-3 25.4 3 25.4 6.5 23.2C8 22 8.2 17.6 6.1 17.2V3Z"/><ellipse class="w" style="stroke-width:1.9" cx="0" cy="3" rx="5.9" ry="2.8"/><path class="l" d="M-6.1 14.6C-3 17.2 3 17.2 6.1 14.6M-6.3 17.3C-3 20 3 20 6.3 17.3"/></g>
<g transform="translate(774.6,551.9)"><path class="w" style="stroke-width:1.4" d="M-6.1 3V17.2C-8.2 17.6 -8 22 -6.5 23.2C-3 25.4 3 25.4 6.5 23.2C8 22 8.2 17.6 6.1 17.2V3Z"/><ellipse class="w" style="stroke-width:1.9" cx="0" cy="3" rx="5.9" ry="2.8"/><path class="l" d="M-6.1 14.6C-3 17.2 3 17.2 6.1 14.6M-6.3 17.3C-3 20 3 20 6.3 17.3"/></g>
<g transform="translate(603.4,404.8)"><path class="w" d="M-3.4 18.5H3.1V21.6L-2.9 24.2Z"/><path class="w" d="M-4.9 4.6C-4.9 -1.5 4.9 -1.5 4.9 4.6V17.2C4.9 19 3.5 19 3 19H-3C-3.5 19 -4.9 19 -4.9 17.2Z"/><path class="t" d="M-1.6 15V10.6C-1.6 7.6 1.6 7.6 1.6 10.6V13.4M3.1 3.5V9"/></g>
<g transform="translate(627.0,412.2)"><path class="w" d="M-3.4 18.5H3.1V21.6L-2.9 24.2Z"/><path class="w" d="M-4.9 4.6C-4.9 -1.5 4.9 -1.5 4.9 4.6V17.2C4.9 19 3.5 19 3 19H-3C-3.5 19 -4.9 19 -4.9 17.2Z"/><path class="t" d="M-1.6 15V10.6C-1.6 7.6 1.6 7.6 1.6 10.6V13.4M3.1 3.5V9"/></g>
<g transform="translate(646.1,424.1)"><path class="w" d="M-3.4 18.5H3.1V21.6L-2.9 24.2Z"/><path class="w" d="M-4.9 4.6C-4.9 -1.5 4.9 -1.5 4.9 4.6V17.2C4.9 19 3.5 19 3 19H-3C-3.5 19 -4.9 19 -4.9 17.2Z"/><path class="t" d="M-1.6 15V10.6C-1.6 7.6 1.6 7.6 1.6 10.6V13.4M3.1 3.5V9"/></g>
<g transform="translate(666.3,433.5)"><path class="w" d="M-3.4 18.5H3.1V21.6L-2.9 24.2Z"/><path class="w" d="M-4.9 4.6C-4.9 -1.5 4.9 -1.5 4.9 4.6V17.2C4.9 19 3.5 19 3 19H-3C-3.5 19 -4.9 19 -4.9 17.2Z"/><path class="t" d="M-1.6 15V10.6C-1.6 7.6 1.6 7.6 1.6 10.6V13.4M3.1 3.5V9"/></g>
<g transform="translate(557.4,452)"><path class="w" d="M-3.4 18.5H3.1V21.6L-2.9 24.2Z"/><path class="w" d="M-4.9 4.6C-4.9 -1.5 4.9 -1.5 4.9 4.6V17.2C4.9 19 3.5 19 3 19H-3C-3.5 19 -4.9 19 -4.9 17.2Z"/><path class="t" d="M-1.6 15V10.6C-1.6 7.6 1.6 7.6 1.6 10.6V13.4M3.1 3.5V9"/></g>
<g transform="translate(580.5,457.8)"><path class="w" d="M-3.4 18.5H3.1V21.6L-2.9 24.2Z"/><path class="w" d="M-4.9 4.6C-4.9 -1.5 4.9 -1.5 4.9 4.6V17.2C4.9 19 3.5 19 3 19H-3C-3.5 19 -4.9 19 -4.9 17.2Z"/><path class="t" d="M-1.6 15V10.6C-1.6 7.6 1.6 7.6 1.6 10.6V13.4M3.1 3.5V9"/></g>
<g transform="translate(691.7,467.6)"><path class="w" d="M-3.4 18.5H3.1V21.6L-2.9 24.2Z"/><path class="w" d="M-4.9 4.6C-4.9 -1.5 4.9 -1.5 4.9 4.6V17.2C4.9 19 3.5 19 3 19H-3C-3.5 19 -4.9 19 -4.9 17.2Z"/><path class="t" d="M-1.6 15V10.6C-1.6 7.6 1.6 7.6 1.6 10.6V13.4M3.1 3.5V9"/></g>
<g transform="translate(743.4,425.4)"><path class="w" d="M-3.4 18.5H3.1V21.6L-2.9 24.2Z"/><path class="w" d="M-4.9 4.6C-4.9 -1.5 4.9 -1.5 4.9 4.6V17.2C4.9 19 3.5 19 3 19H-3C-3.5 19 -4.9 19 -4.9 17.2Z"/><path class="t" d="M-1.6 15V10.6C-1.6 7.6 1.6 7.6 1.6 10.6V13.4M3.1 3.5V9"/></g>
<g transform="translate(755.1,506.2)"><path class="w" d="M-3.4 18.5H3.1V21.6L-2.9 24.2Z"/><path class="w" d="M-4.9 4.6C-4.9 -1.5 4.9 -1.5 4.9 4.6V17.2C4.9 19 3.5 19 3 19H-3C-3.5 19 -4.9 19 -4.9 17.2Z"/><path class="t" d="M-1.6 15V10.6C-1.6 7.6 1.6 7.6 1.6 10.6V13.4M3.1 3.5V9"/></g>
<g transform="translate(774.5,524.4)"><path class="w" d="M-3.4 18.5H3.1V21.6L-2.9 24.2Z"/><path class="w" d="M-4.9 4.6C-4.9 -1.5 4.9 -1.5 4.9 4.6V17.2C4.9 19 3.5 19 3 19H-3C-3.5 19 -4.9 19 -4.9 17.2Z"/><path class="t" d="M-1.6 15V10.6C-1.6 7.6 1.6 7.6 1.6 10.6V13.4M3.1 3.5V9"/></g>

<!-- 09_housing.svg -->
<clipPath id="clipY"><rect x="0" y="0" width="736" height="1200"/></clipPath>
<g id="housing_Y" transform="translate(150,620) scale(0.190404)" clip-path="url(#clipY)">
<!-- back rim arc -->
<!-- panel -->
<path class="l" d="M112 604L172 500L590 245L608 250V345M590 245V262L180 512"/>
<path class="l" style="stroke-width:1.8" d="M108 610L300 502"/>
<path class="l" style="stroke-width:1.4" d="M283 458L352 417L367 436L298 482ZM393 396L462 355L477 374L408 420ZM503 336L572 290L590 310L520 360Z"/>
<!-- ledge -->
<path class="l" d="M68 645L300 512M68 645V905M90 700V912M68 645L90 700L330 628M120 775V1010"/>
<path class="l" d="M95 645L160 618C175 615 192 630 185 645L125 700C112 705 98 690 95 645Z"/>
<!-- left outer -->
<path class="l" d="M68 650C50 700 35 760 42 810C50 880 90 960 160 1028C230 1075 330 1085 420 1052C470 1030 520 1000 580 962C620 945 690 948 735 940C790 928 850 902 905 878"/>
<path class="l" d="M120 1010C180 1052 260 1068 330 1062C400 1050 470 1012 520 985C560 960 580 948 620 938C680 930 700 930 735 924C790 912 850 887 905 862"/>
<path class="l" d="M90 912L120 925"/>
<!-- left bowl arc -->
<path class="l" d="M312 622C290 570 300 510 360 462C420 425 500 415 560 395C600 380 640 345 660 325"/>
<path class="l" d="M335 628C312 575 325 520 378 475C430 440 505 430 565 408C610 390 650 355 672 330"/>
<path class="l" d="M300 505C295 540 300 590 312 622M672 320V662M340 650V722"/>
<!-- rib -->
<path class="l" d="M495 465L560 445H672M495 465L672 468"/>
<!-- floor lines -->
<path class="l" d="M510 700C560 672 620 665 672 662L740 662M365 745L418 718M195 858L230 842L268 862"/>
<!-- front rim double -->
<path class="l" d="M120 775C130 745 200 710 250 690L335 630"/>
<path class="l" d="M120 775C120 830 170 872 260 890C340 896 400 866 470 822L575 770L597 765C640 755 690 752 735 741C790 725 850 700 905 672"/>
<path class="l" d="M136 772C136 822 182 860 262 877C335 882 395 853 462 810L572 757C640 742 690 738 735 727C790 711 850 686 905 658"/>
<path class="l" d="M597 765V1008M578 772V960"/>
<path class="l" d="M520 1000L560 1022L597 1008"/>
</g>
<g id="housing_Z" transform="translate(290,610) scale(0.190404)">
<!-- top back rim -->
<path class="l" d="M160 140C220 132 290 138 350 150M625 100C700 92 770 100 820 130C870 165 888 220 890 270"/>
<path class="l" d="M160 153C220 145 290 151 350 163M625 113C700 105 765 113 812 142C858 175 875 225 877 270"/>
<!-- block -->
<path class="w" d="M350 115L455 48L625 62V85L470 185L350 140Z"/>
<path class="l" d="M350 115L470 160L625 62M470 160V185"/>
<path class="l" d="M400 112L465 68L562 76L536 116L472 146Z"/>
<path class="l" d="M462 185V510"/>
<!-- right outer wall -->
<path class="l" d="M890 270V335C885 365 875 385 850 400L650 530C635 542 628 560 620 578C610 600 595 615 570 630L215 832C200 842 195 855 190 870C185 890 180 905 165 918C120 950 60 975 0 1000"/>
<path class="l" d="M880 330C870 350 862 365 840 380L640 512C622 525 616 545 608 562C598 585 585 600 560 615L205 815M890 335C880 352 870 372 848 388L645 522C630 535 622 553 614 570C604 592 590 607 565 622L210 824"/>
<path class="l" d="M190 870C175 885 120 920 0 980"/>
<!-- inner front rim -->
<path class="l" d="M877 270C860 282 700 345 640 372C615 385 605 400 598 420C590 440 580 445 560 455L208 658C195 668 190 680 180 695C150 730 60 765 0 790"/>
<path class="l" d="M862 262C840 275 690 335 632 362C605 375 595 390 588 410C580 430 570 435 552 445L200 645C180 660 170 680 160 690C130 715 60 745 0 772"/>
<path class="l" d="M190 668V835M208 660V828"/>
<!-- floor of upper bowl -->
<path class="l" d="M75 400C150 375 260 368 340 385C400 400 440 420 462 440"/>
<path class="l" d="M130 485L205 460L255 500L320 505L345 515C355 505 385 510 385 530C385 550 365 560 350 555L340 572"/>
<circle class="l" cx="352" cy="523" r="9"/><circle class="l" cx="160" cy="632" r="9"/>
<path class="l" d="M130 485L140 570C150 600 140 615 150 625M140 620C150 610 175 615 180 635L205 655"/>
<path class="l" d="M240 640C235 620 265 612 275 625M285 612C280 595 310 587 320 598M330 585C325 570 355 562 362 572"/>
<!-- right floor -->
<path class="l" d="M590 300C640 250 720 235 800 250C830 258 850 262 862 262M600 340C620 320 680 310 700 320M640 372L598 350"/>
<circle class="l" cx="645" cy="348" r="8"/>
<!-- needle 1 (in Z) base done in Y ; needle 2 -->
<path class="w" d="M455 512L474 300V288C474 281 488 281 488 288V300L520 482Z"/>
<path class="l" d="M474 300C478 304 484 304 488 300M478 310L482 500M488 310L492 492"/>
<!-- boss 4 -->
<path class="w" d="M490 278V470L590 420V278Z"/><ellipse class="w" cx="540" cy="276" rx="50" ry="28"/>
</g>
<g id="housing_Yobj" transform="translate(150,620) scale(0.190404)">
<!-- back rim -->
<path class="l" d="M660 325C635 260 655 190 735 135C790 102 850 90 905 86"/>
<path class="l" d="M674 318C652 262 672 198 745 148C795 116 850 103 905 99"/>
<!-- rect pillar -->
<path class="w" d="M685 420L740 395L745 450V660L685 640Z"/>
<path class="l" d="M685 420L740 450V660M740 450L745 448"/>
<!-- needle 1 -->
<path class="w" d="M765 392L784 190V175C784 168 800 168 800 175V190L832 398Z"/>
<path class="l" d="M784 190C788 194 796 194 800 190M784 210L792 395M800 210V395"/>
<!-- bosses -->
<path class="w" d="M415 570V750C430 775 495 775 510 750V570Z"/><ellipse class="w" cx="462" cy="570" rx="48" ry="28"/>
<path class="w" d="M265 760V872C280 890 345 890 360 872V760Z"/><ellipse class="w" cx="312" cy="760" rx="48" ry="27"/>
<path class="w" d="M745 428V610C760 632 825 632 840 610V428Z"/><ellipse class="w" cx="792" cy="428" rx="48" ry="28"/>
<path class="w" d="M455 800C455 765 545 765 545 795L470 835Z"/>
<ellipse class="l" cx="506" cy="797" rx="13" ry="9"/>
<!-- needle 3 -->
<path class="w" d="M825 660L845 470V455C845 448 860 448 860 455V470L872 690L850 700Z"/>
<path class="l" d="M845 470C849 474 856 474 860 470M850 480V695M858 480L862 690"/>
</g>

<!-- 10_bracket.svg -->
<g id="bracket" transform="translate(155,810) scale(0.361048)">
<!-- silhouette incl. thickness -->
<path style="fill:#fff;stroke:none" d="M894 107L893 118L886 133L862 144L765 137L590 237L582 289L524 326L464 325L418 349L391 400L318 438L307 451L289 466L253 475L222 466L210 451L210 420L300 300L580 220L800 100Z"/>
<path class="l" d="M894 107L893 118L886 133L862 144L765 137L590 237M582 281V289L524 326L464 325L418 349L391 400L318 438L307 451L289 466L253 475L222 466L210 451V443"/>
<!-- top surface -->
<path class="w" d="M24 245L32 234L47 232L159 292L174 293L216 318L216 333L192 330C186 338 190 352 201 357C212 360 222 354 241 341L262 345L307 372L332 366L362 313L380 308L405 300L407.6 284.6L442 282.4L467.6 278.8L480.3 269L492.3 234.4L487.6 220L474.8 210.8L318.5 121.7L316 103L335 87L362 84L374 93L374 69L413 42L495 90L441 124L524 173.3L536.7 172.6L642 110.8L705 66L690 50L698 35L723 27L750 32L771 44L826 74L862 77L886 89L894 107L886 125L862 136L765 129L650.8 190.8L589.4 227.2L582 238L582 281.7L522 318.8L462 318.8L415 343.5L387.6 394.4L318.5 430.8L307 442L289 458L252 467L222 458L210 443L216 390L153 345L150 324L132 318L35 262L24 254Z"/>
<!-- left tab slot -->
<path class="l" d="M43 245C44 240 50 240 54 242L138 290L132 297L47 254C43 252 42 248 43 245ZM159 292L141 308L132 318"/>
<!-- keyhole left -->
<path class="l" d="M366.7 93.5L419.4 90.5L421.3 100.8L374 106.8A15 14 0 1 1 366.7 93.5Z"/>
<!-- hook right -->
<path class="l" d="M705 66L741 62C752 58 752 47 741 45C730 42 715 44 711 52"/>
<!-- bolt hole -->
<ellipse class="l" cx="844" cy="100" rx="13" ry="7" transform="rotate(-15 844 100)"/>
<!-- hole bottom-left -->
<ellipse class="l" cx="260" cy="439" rx="11" ry="7"/>
<!-- channel -->
<path class="l" d="M373 129C372 120 378 116 386 117L397 119L533 198L547.6 198L765 88L795 82C810 80 822 84 820 92C818 100 808 106 802 106L765 104L551 223.5L524 296L515 305L464 309L453 309L409 332.6L407.6 341.7L378.5 390.8L318.5 423.5"/>
<path class="l" d="M373 129L376.7 134.4L516.7 214.4L525.8 220L500 278L489.4 289L453 292.6L438.5 292.6L407.6 312.6"/>
<!-- raised step edges -->
<path class="l" d="M362 313L382 320L351 371L335 364M382 320L406 300M351 371L300 396L262 378C252 374 250 384 258 388L300 408L378 390M307 372L300 396"/>
</g>

<!-- 11_small.svg -->
<g id="small_C1" transform="translate(205,1000) scale(0.109409)">
<!-- 92160 damper -->
<path class="w" d="M130 218V345C135 420 320 420 328 345V218Z"/>
<path class="l" d="M130 305C150 345 305 345 328 305M130 328C150 368 305 368 328 328M132 350C152 385 305 385 326 350"/>
<ellipse class="w" style="stroke-width:1.4" cx="229" cy="218" rx="99" ry="53"/>
<ellipse class="l" cx="228" cy="220" rx="68" ry="36"/>
<path class="l" style="stroke-width:1.5" d="M190 200V240M215 195V248M240 195V248M265 200V240"/>
<!-- 92022 washer -->
<path class="w" d="M123 590V605C130 685 325 685 333 605V590Z"/>
<ellipse class="w" cx="228" cy="590" rx="105" ry="65"/>
<ellipse class="l" style="stroke-width:1.5" cx="226" cy="587" rx="38" ry="20"/>
<!-- 311 nut -->
<path class="w" d="M150 765V810L185 840L228 852L272 840L305 810V765Z"/>
<path class="l" d="M185 795V840M272 795V840"/>
<ellipse class="w" cx="228" cy="765" rx="77" ry="40"/>
<ellipse class="l" cx="228" cy="768" rx="48" ry="24"/>
<ellipse class="l" cx="230" cy="772" rx="34" ry="15"/>
</g>

<!-- 12_bolts.svg -->
<g id="bolt130" transform="translate(395,765) scale(0.087527)">
<path class="w" d="M680 270V445C700 470 770 470 790 445V270Z"/>
<path class="l" d="M680 320C700 345 770 345 790 320M680 360C700 385 770 385 790 360M680 400C700 425 770 425 790 400M680 440C700 462 770 462 790 440"/>
<ellipse class="w" style="stroke-width:1.4" cx="738" cy="225" rx="118" ry="52"/>
<path class="l" d="M625 205C640 250 840 250 852 205"/>
<path class="w" d="M650 110L665 75L740 58L810 75L828 110V175L800 232H690L650 175Z"/>
<path class="l" d="M650 110L690 170H800L828 110M690 170V232M800 170V232"/>
</g>
<g id="screw92009A" transform="translate(385,930) scale(0.087527)">
<path class="w" d="M175 470H300L282 522C260 535 220 535 198 522Z"/>
<ellipse class="w" style="stroke-width:1.4" cx="238" cy="440" rx="95" ry="50"/>
<path class="l" d="M145 455C160 510 315 510 330 455"/>
<path class="w" d="M195 175C195 140 285 140 285 175V440C265 462 215 462 195 440Z"/>
<path class="l" d="M195 185C215 210 265 210 285 185M195 250C215 275 265 275 285 250M195 315C215 340 265 340 285 315M195 380C215 405 265 405 285 380"/>
</g>


<g id="leaders" class="ld">
<path d="M311.8 49.4H335"/>
<path d="M312.4 90.2H334"/>
<path d="M304 103V196"/>
<path d="M400.2 244H434.5"/>
<path d="M341.7 344V366.6"/>
<path d="M458.2 341.5V365"/>
<path d="M207.3 401V432"/>
<path d="M150.2 554V583"/>
<path d="M419.4 487.7H447.7"/>
<path d="M414.3 497.5V524"/><path d="M435.8 537V582.2"/>
<path d="M287.1 616.2V644.3"/><path d="M229.9 827.4V911.6M229.9 979.4V1014.2"/>
<path d="M423 777.1H451.5"/><path d="M459.6 808.8V845.5"/>
<path d="M365.6 909.6H397.4"/>
<path d="M411.3 963.7H438"/>
<path d="M241.7 1031.9H264.6"/>
<path d="M242.2 1065.6H265"/>
<path d="M238.6 1086.4H261.9"/>
<path d="M603.7 377.7V404.2"/>
<path d="M628.8 411.7V396.8L668.1 418"/>
<path d="M668.1 400.3V433.1"/>
<path d="M648 408V424.3"/>
<path d="M567.4 424.3L580 457"/>
<path d="M525.2 457.5H551.6"/>
<path d="M710.9 421.8L692.5 467.1"/>
<path d="M748.2 431.6H779.1"/>
<path d="M759.5 512.6H787.7"/>
<path d="M779.6 533.5H801"/>
<path d="M696 689.4H727.2"/>
</g>
</svg>
</body></html>
